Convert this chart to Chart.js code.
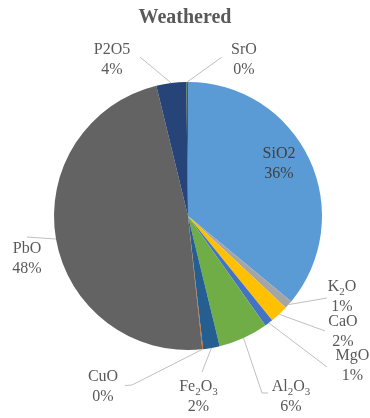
<!DOCTYPE html>
<html>
<head>
<meta charset="utf-8">
<script src="https://cdn.jsdelivr.net/npm/chart.js@4/dist/chart.umd.min.js"></script>
<style>
  html, body { margin: 0; padding: 0; background: #ffffff; }
  #wrap { position: relative; width: 370px; height: 418px; }
</style>
</head>
<body>
<div id="wrap"><canvas id="chart" width="370" height="418"></canvas></div>
<script>
// Oxide composition of the weathered glass group (percent by mass)
const categories = ['SiO2', 'K₂O', 'CaO', 'MgO', 'Al₂O₃', 'Fe₂O₃', 'CuO', 'PbO', 'P2O5', 'SrO'];
const values     = [36.0,   1.0,   2.2,   1.0,   6.0,     2.0,     0.1,   47.9,  3.6,    0.2];
const colors     = ['#5B9BD5', '#A5A5A5', '#FFC000', '#4472C4', '#70AD47',
                    '#255E91', '#C55A11', '#636363', '#264478', '#43682B'];
const titleText  = 'Weathered';

// Where each data label sits, and the bend points of its leader line
// (the line always finishes on the slice's outer edge).
const labelLayout = [
  { x: 279,   y: 153.5, inside: true },
  { x: 342,   y: 287,   line: [[327, 298]] },
  { x: 343,   y: 322,   line: [[325, 331]] },
  { x: 352.5, y: 356,   line: [[327, 367]] },
  { x: 291,   y: 387,   line: [[268, 393], [262, 393]] },
  { x: 198.5, y: 387,   line: [[202, 372]] },
  { x: 103,   y: 377,   line: [[125, 385.5], [132, 385]] },
  { x: 27,    y: 248.5, line: [[27, 237]] },
  { x: 112,   y: 49.5,  line: [[140, 57]] },
  { x: 244,   y: 49.5,  line: [[222, 57]] }
];

const FONT = '"Liberation Serif", "Times New Roman", serif';
const SIZE = 16, SUB = 11, GAP = 20;

// Split a name into runs of normal text and subscript digits (₂, ₃ ...)
function runs(text) {
  const out = [];
  for (const ch of text) {
    const code = ch.codePointAt(0);
    const sub = code >= 0x2080 && code <= 0x2089;
    const c = sub ? String(code - 0x2080) : ch;
    if (out.length && out[out.length - 1].sub === sub) out[out.length - 1].t += c;
    else out.push({ t: c, sub });
  }
  return out;
}

function drawRich(ctx, text, cx, cy) {
  const parts = runs(text);
  let w = 0;
  for (const p of parts) {
    ctx.font = (p.sub ? SUB : SIZE) + 'px ' + FONT;
    p.w = ctx.measureText(p.t).width;
    w += p.w;
  }
  let x = cx - w / 2;
  ctx.textAlign = 'left';
  for (const p of parts) {
    ctx.font = (p.sub ? SUB : SIZE) + 'px ' + FONT;
    ctx.textBaseline = 'middle';
    ctx.fillText(p.t, x, p.sub ? cy + 5 : cy);
    x += p.w;
  }
}

const labelPlugin = {
  id: 'oxideLabels',
  afterDraw(chart) {
    const ctx = chart.ctx;
    const meta = chart.getDatasetMeta(0);
    const total = values.reduce((a, b) => a + b, 0);
    ctx.save();

    // title
    ctx.fillStyle = '#595959';
    ctx.font = 'bold 20px ' + FONT;
    ctx.textAlign = 'center';
    ctx.textBaseline = 'alphabetic';
    ctx.fillText(titleText, 185, 23);

    meta.data.forEach((arc, i) => {
      const lay = labelLayout[i];
      const p = arc.getProps(['x', 'y', 'startAngle', 'endAngle', 'outerRadius'], true);
      const mid = (p.startAngle + p.endAngle) / 2;
      const ex = p.x + Math.cos(mid) * p.outerRadius;
      const ey = p.y + Math.sin(mid) * p.outerRadius;

      if (lay.line) {
        ctx.strokeStyle = '#BFBFBF';
        ctx.lineWidth = 1;
        ctx.beginPath();
        ctx.moveTo(lay.line[0][0], lay.line[0][1]);
        for (let k = 1; k < lay.line.length; k++) ctx.lineTo(lay.line[k][0], lay.line[k][1]);
        ctx.lineTo(ex, ey);
        ctx.stroke();
      }

      const pct = Math.round(values[i] / total * 100) + '%';
      ctx.fillStyle = lay.inside ? '#404040' : '#595959';
      drawRich(ctx, categories[i], lay.x, lay.y);
      drawRich(ctx, pct, lay.x, lay.y + GAP);
    });
    ctx.restore();
  }
};

new Chart(document.getElementById('chart'), {
  type: 'pie',
  data: {
    labels: categories,
    datasets: [{
      data: values,
      backgroundColor: colors,
      borderWidth: 0,
      hoverOffset: 0
    }]
  },
  options: {
    responsive: false,
    animation: false,
    devicePixelRatio: 1,
    layout: { padding: { left: 54, right: 48, top: 82, bottom: 68 } },
    plugins: {
      legend: { display: false },
      tooltip: { enabled: false },
      title: { display: false }
    }
  },
  plugins: [labelPlugin]
});
</script>
</body>
</html>
